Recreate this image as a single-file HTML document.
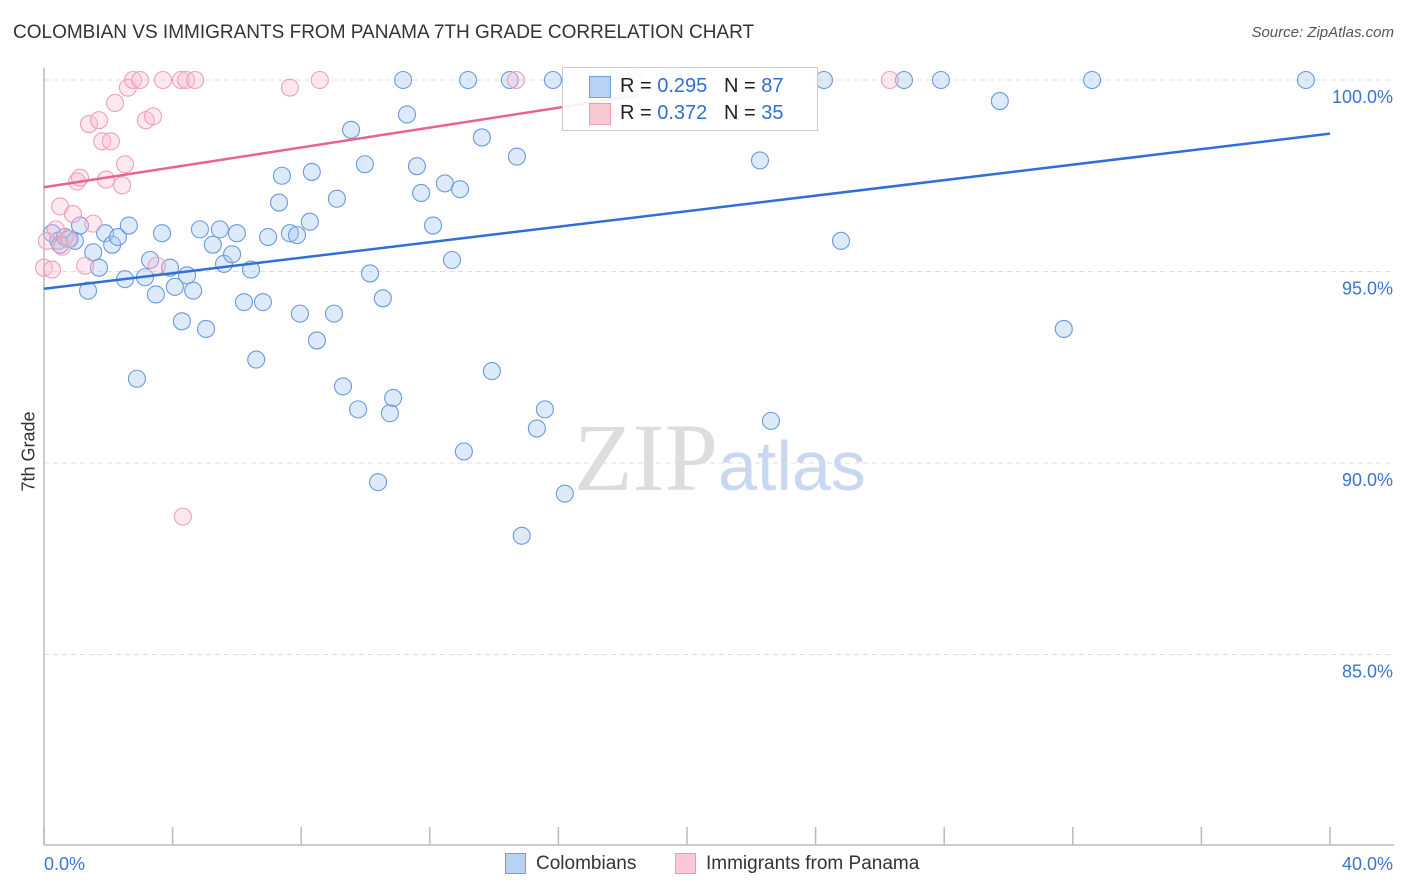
<!DOCTYPE html>
<html><head><meta charset="utf-8">
<style>
body{margin:0;background:#fff;font-family:"Liberation Sans",sans-serif;}
#wrap{position:relative;width:1406px;height:892px;overflow:hidden;}
.t{position:absolute;white-space:nowrap;}
</style></head>
<body>
<div id="wrap">
<div class="t" style="left:13px;top:22px;font-size:19px;color:#333;">COLOMBIAN VS IMMIGRANTS FROM PANAMA 7TH GRADE CORRELATION CHART</div>
<div class="t" style="right:12px;top:24px;font-size:15px;color:#555;font-style:italic;">Source: ZipAtlas.com</div>
<svg id="svg" width="1406" height="892" style="position:absolute;left:0;top:0">
<text x="718" y="490" font-family="Liberation Serif,serif" font-size="96" fill="#ddd" text-anchor="end">ZIP</text>
<text x="718" y="490" font-family="Liberation Sans,sans-serif" font-size="70" fill="#c9d8f0">atlas</text>
</svg>
<div class="t" style="left:-6px;top:446px;font-size:18px;color:#333;transform:rotate(-90deg);transform-origin:center;width:70px;text-align:center;">7th Grade</div>
<div style="position:absolute;left:562px;top:67px;width:254px;height:62px;border:1px solid #ccc;background:rgba(255,255,255,0.9);">
 <div style="position:absolute;left:26px;top:8px;width:20px;height:20px;background:#b9d2f3;border:1px solid #6f9fe0;"></div>
 <div class="t" style="left:57px;top:7px;font-size:20px;color:#222;">R = <span style="color:#2f6fd0">0.295</span>&nbsp;&nbsp;&nbsp;N = <span style="color:#2f6fd0">87</span></div>
 <div style="position:absolute;left:26px;top:35px;width:20px;height:20px;background:#fbc9d6;border:1px solid #ec9ab0;"></div>
 <div class="t" style="left:57px;top:34px;font-size:20px;color:#222;">R = <span style="color:#2f6fd0">0.372</span>&nbsp;&nbsp;&nbsp;N = <span style="color:#2f6fd0">35</span></div>
</div>
<div style="position:absolute;left:505px;top:853px;">
 <div style="position:absolute;left:0;top:0;width:19px;height:19px;background:#b9d2f3;border:1px solid #6f9fe0;"></div>
 <div class="t" style="left:31px;top:0;font-size:19px;color:#333;">Colombians</div></div>
<div style="position:absolute;left:675px;top:853px;">
 <div style="position:absolute;left:0;top:0;width:19px;height:19px;background:#fbc9d6;border:1px solid #ec9ab0;"></div>
 <div class="t" style="left:31px;top:0;font-size:19px;color:#333;">Immigrants from Panama</div></div>
</div>
<script>
const yTicks=[100,95,90,85];
const xTickLabels=["0.0%","40.0%"];
const blueX=[0.25,0.44,0.5,0.65,0.8,0.96,1.12,1.37,1.53,1.71,1.9,2.12,2.3,2.52,2.64,2.89,3.14,3.3,3.48,3.67,3.92,4.07,4.29,4.45,4.64,4.85,5.04,5.25,5.47,5.6,5.85,6.0,6.22,6.44,6.6,6.81,6.97,7.31,7.4,7.65,7.87,7.96,8.27,8.33,8.49,9.02,9.11,9.3,9.55,9.77,9.98,10.14,10.39,10.54,10.76,10.86,11.17,11.29,11.6,11.73,12.1,12.47,12.69,12.94,13.06,13.19,13.62,13.93,14.49,14.71,14.86,15.33,15.58,15.83,16.2,17.23,19.53,22.27,22.61,24.26,24.79,26.75,27.9,29.73,31.72,32.6,39.25];
const blueY=[96.0,95.8,95.7,95.9,95.85,95.8,96.2,94.5,95.5,95.1,96.0,95.7,95.9,94.8,96.2,92.2,94.85,95.3,94.4,96.0,95.1,94.6,93.7,94.9,94.5,96.1,93.5,95.7,96.1,95.2,95.45,96.0,94.2,95.05,92.7,94.2,95.9,96.8,97.5,96.0,95.95,93.9,96.3,97.6,93.2,93.9,96.9,92.0,98.7,91.4,97.8,94.95,89.5,94.3,91.3,91.7,100.0,99.1,97.75,97.05,96.2,97.3,95.3,97.15,90.3,100.0,98.5,92.4,100.0,98.0,88.1,90.9,91.4,100.0,89.2,99.85,100.0,97.9,91.1,100.0,95.8,100.0,100.0,99.45,93.5,100.0,100.0];
const pinkX=[0.0,0.09,0.25,0.37,0.5,0.56,0.75,0.9,1.03,1.12,1.28,1.4,1.53,1.71,1.81,1.93,2.08,2.21,2.43,2.52,2.61,2.77,2.99,3.17,3.39,3.51,3.7,4.26,4.32,4.42,4.7,7.65,8.58,14.68,18.32,26.31];
const pinkY=[95.1,95.8,95.05,96.1,96.7,95.65,95.85,96.5,97.35,97.45,95.15,98.85,96.25,98.95,98.4,97.4,98.4,99.4,97.25,97.8,99.8,100.0,100.0,98.95,99.05,95.15,100.0,100.0,88.6,100.0,100.0,99.8,100.0,100.0,100.0,100.0];
const blueTrend=[94.55,98.6];
const pinkTrend=[97.2,99.6];
const pinkTrendEnd=18.5;

const L=44,R=1330,T=80,B=845;
const xs=v=>L+v/40*(R-L);
const ys=v=>T+(100-v)*38.3;
const svg=document.getElementById('svg');
const NS='http://www.w3.org/2000/svg';
function mk(tag,attrs){const e=document.createElementNS(NS,tag);for(const k in attrs)e.setAttribute(k,attrs[k]);svg.appendChild(e);return e;}
yTicks.forEach(v=>{
 const g=mk('line',{x1:L,x2:1394,y1:ys(v),y2:ys(v),stroke:'#ddd','stroke-dasharray':'5,4'});
 
 
 const t=mk('text',{x:1393,y:ys(v)+23,'text-anchor':'end','font-size':18,fill:'#3a74d4','font-family':'Liberation Sans,sans-serif'});
 t.textContent=v.toFixed(1)+'%';
 
 
});
const ax=mk('line',{x1:L,x2:L,y1:68,y2:B,stroke:'#bbb','stroke-width':1.5});


const bx=mk('line',{x1:L,x2:1394,y1:B,y2:B,stroke:'#bbb','stroke-width':1.5});


for(let i=0;i<=10;i++){
 const tk=mk('line',{x1:xs(i*4),x2:xs(i*4),y1:B-18,y2:B,stroke:'#bbb','stroke-width':1.5});
 
 
}
[[0,'start',L],[40,'end',1393]].forEach((p,i)=>{
 const t=mk('text',{x:p[2],y:870,'text-anchor':p[1],'font-size':18,fill:'#3a74d4','font-family':'Liberation Sans,sans-serif'});
 t.textContent=xTickLabels[i];
 
 
});
blueX.forEach((x,i)=>{
 const c=mk('circle',{cx:xs(x),cy:ys(blueY[i]),r:8.5,fill:'rgba(170,202,242,0.4)',stroke:'#6a9ae0','stroke-width':1.1});
 
 
});
pinkX.forEach((x,i)=>{
 const c=mk('circle',{cx:xs(x),cy:ys(pinkY[i]),r:8.5,fill:'rgba(250,190,208,0.35)',stroke:'#efa0b6','stroke-width':1.1});
 
 
});
const bl=mk('line',{x1:xs(0),y1:ys(blueTrend[0]),x2:xs(40),y2:ys(blueTrend[1]),stroke:'#2f6fd6','stroke-width':2.5});


const pl=mk('line',{x1:xs(0),y1:ys(pinkTrend[0]),x2:xs(pinkTrendEnd),y2:ys(pinkTrend[1]),stroke:'#e8638e','stroke-width':2.5});


</script>
</body></html>
